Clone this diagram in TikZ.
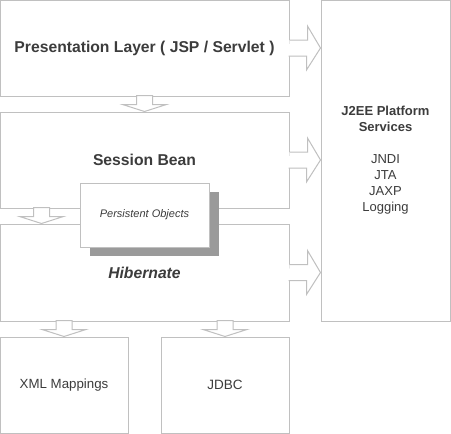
\documentclass[tikz,border=0pt]{standalone}
\usepackage{fontspec}
\setmainfont{Liberation Sans}
\usepackage{tikz}
\usetikzlibrary{positioning}
\definecolor{framegray}{HTML}{C0C0C0}
\definecolor{textgray}{HTML}{3C3C3C}
\definecolor{shadowgray}{HTML}{9A9A9A}
\begin{document}
\begin{tikzpicture}[x=1pt,y=1pt,yscale=-1,xscale=1,
  layer/.style={draw=framegray,fill=white,text=textgray,line width=1pt,inner sep=0pt,
    minimum width=289pt,minimum height=96pt,align=center},
  small/.style={layer,minimum width=128pt},
  hollow/.style={draw=framegray,fill=white,line width=1pt,line join=miter}]
\useasboundingbox (0,0) rectangle (451,434);

% Layer boxes
\node[layer] (pres) at (144.5,48) {\fontsize{15.7}{19}\selectfont\bfseries Presentation Layer ( JSP / Servlet )};
\node[layer] (bean) at (144.5,160) {\fontsize{15.7}{19}\selectfont\bfseries Session Bean};
\node[layer,minimum height=97pt] (hib) at (144.5,272.5) {\fontsize{15.7}{19}\selectfont\bfseries\itshape Hibernate};
\node[layer,minimum width=129pt,minimum height=321pt,font=\fontsize{13}{16}\selectfont] (j2ee) at (385.5,160.5)
  {\textbf{J2EE Platform}\\\textbf{Services}\\[16pt]JNDI\\JTA\\JAXP\\Logging};
\node[small] (xml) at (64,385) {\fontsize{13.3}{16}\selectfont XML Mappings};
\node[small] (jdbc) at (225,385) {\fontsize{13.5}{16}\selectfont JDBC};

% Persistent objects with shadow
\fill[shadowgray] (90,192) rectangle (219,256);
\node[layer,minimum width=129pt,minimum height=64pt] (objs) at (144.5,215) {\fontsize{11}{13}\selectfont\itshape Persistent Objects};

% Block arrows
\coordinate (hibin) at ([xshift=42pt]hib.north west);
\foreach \src in {pres,bean,hib}
  \draw[hollow] (\src.east) ++(0,-8) -- ++(18,0) -- ++(0,-14) -- (j2ee.west |- \src.east)
    -- ++(-14,22) -- ++(0,-14) -- ++(-18,0);
\foreach \tip in {bean.north,hibin,xml.north,jdbc.north}
  \draw[hollow] (\tip) -- ++(-22,-7) -- ++(14,0) -- ++(0,-9) -- ++(16,0) -- ++(0,9) -- ++(14,0) -- cycle;
\end{tikzpicture}
\end{document}
